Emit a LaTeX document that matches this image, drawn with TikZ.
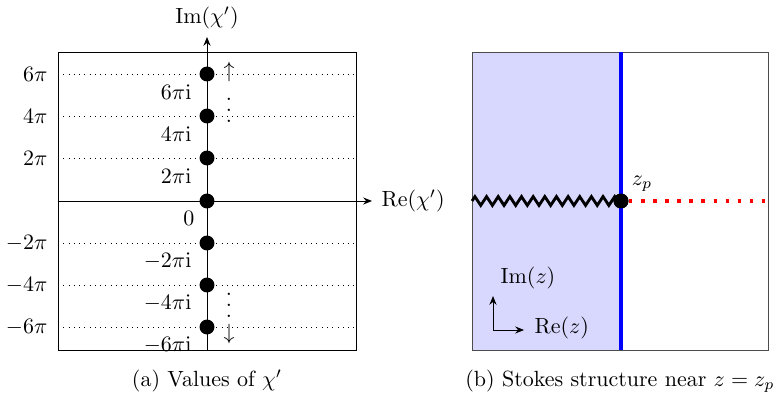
\documentclass[tikz,border=0pt]{standalone}
\usepackage{amsmath}
\usepackage{xcolor}
\definecolor{stokesfill}{RGB}{216, 216, 255}
\usetikzlibrary{arrows.meta, decorations.pathmorphing}
\newcommand{\tightvdots}{\vbox{\baselineskip5pt\lineskiplimit0pt\hbox{.}\hbox{.}\hbox{.}}}

\begin{document}
\begin{tikzpicture}[x=0.455pt, y=-0.455pt,
  ptdot/.style={circle, fill=black, inner sep=0pt, minimum size=6.8pt},
  axisarr/.style={-{Stealth[length=4pt, width=3.2pt]}, thin},
  gridline/.style={dotted, thin},
  ticklbl/.style={anchor=east, inner sep=1pt},
  ptlbl/.style={anchor=east, inner sep=1pt},
  marklbl/.style={inner sep=0pt},
  caplbl/.style={font=\normalsize}
]
  \useasboundingbox (0,0) rectangle (779,398);

  % ── (a) Values of chi' ──
  \draw[thin] (58,52) rectangle (356,350);
  \foreach \k/\y in {6/74,4/116,2/158,-2/243,-4/285,-6/327}
    \draw[gridline] (58,\y) -- (356,\y);

  \coordinate (imlo) at (207,350);
  \coordinate (imhi) at (207,37);
  \coordinate (relo) at (58,201);
  \coordinate (rehi) at (372,201);
  \draw[axisarr] (imlo) -- (imhi);
  \draw[axisarr] (relo) -- (rehi);
  \node (imlbl) at (207,18) {$\mathrm{Im}(\chi')$};
  \node[anchor=west, inner sep=1pt] (relbl) at (379,201) {$\mathrm{Re}(\chi')$};

  \foreach \n/\y/\t in {p6/74/6\pi, p4/116/4\pi, p2/158/2\pi,
                        m2/243/-2\pi, m4/285/-4\pi, m6/327/-6\pi}{
    \node[ptdot] (\n) at (207,\y) {};
    \node[ticklbl] at (50,\y) {$\t$};
    \node[ptlbl] at (194,\y+18) {$\t\mathrm{i}$};
  }
  \node[ptdot] (zero) at (207,201) {};
  \node[ptlbl] at (197,218) {$0$};

  \node[marklbl] (up)  at (229,72)  {$\uparrow$};
  \node[marklbl] (vup) at (229,110) {\tightvdots};
  \node[marklbl] (vdn) at (229,305) {\tightvdots};
  \node[marklbl] (dn)  at (229,334) {$\downarrow$};

  \node[caplbl] (capa) at (207,381) {(a) Values of $\chi'$};

  % ── (b) Stokes structure ──
  \fill[stokesfill] (472,52) rectangle (621,350);
  \draw[thin, black!70] (472,52) rectangle (768,350);
  \coordinate (cutl) at (472,201);
  \coordinate (redr) at (767,201);
  \coordinate (stlo) at (621,350);
  \coordinate (sthi) at (621,52);
  \node[ptdot] (zp) at (621,201) {};
  \draw[blue, line width=1.8pt] (stlo) -- (sthi);
  \draw[line width=1.3pt, decorate,
        decoration={zigzag, segment length=5.3pt, amplitude=2pt}] (cutl) -- (zp.center);
  \draw[red, line width=1.6pt, dash pattern=on 1.6pt off 3.9pt] (zp.east) -- (redr);
  \node[ptdot] at (zp) {};
  \node (zplbl) at (642,184) {$z_p$};

  \coordinate (corner) at (493,330);
  \coordinate (upend) at (493,296);
  \coordinate (rtend) at (524,330);
  \draw[axisarr] (corner) -- (upend);
  \draw[axisarr] (corner) -- (rtend);
  \node (imz) at (528,278) {$\mathrm{Im}(z)$};
  \node[anchor=west, inner sep=1pt] (rez) at (532,328) {$\mathrm{Re}(z)$};

  \node[caplbl] (capb) at (620,381) {(b) Stokes structure near $z=z_p$};
\end{tikzpicture}
\end{document}
